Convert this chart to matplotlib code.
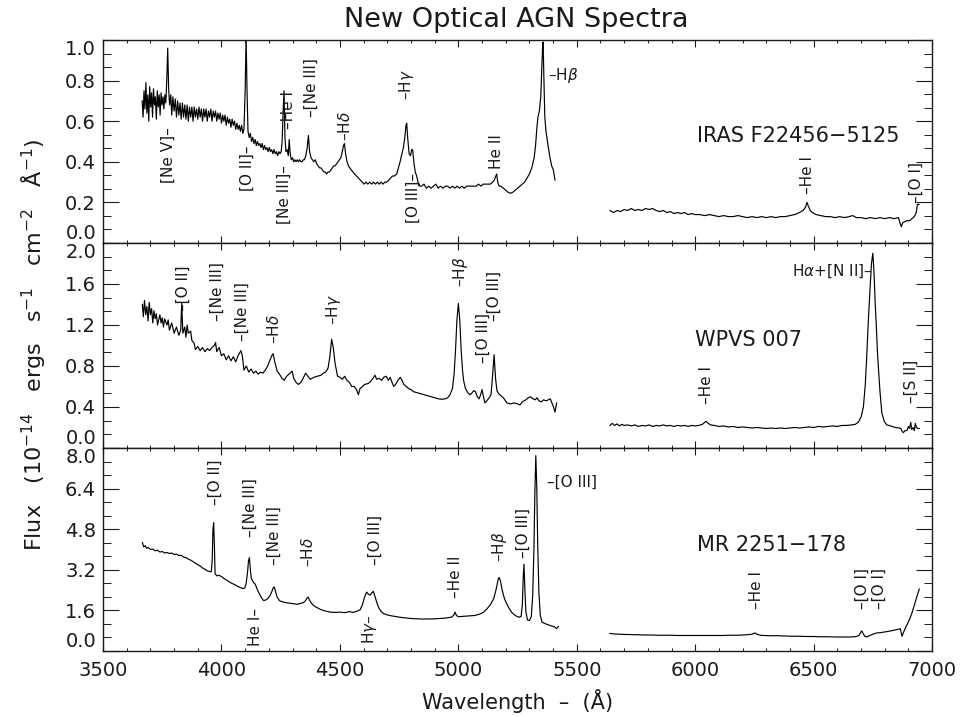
import numpy as np
import matplotlib
matplotlib.use("Agg")
import matplotlib.pyplot as plt
from matplotlib.ticker import MultipleLocator

# ---- IRAS F22456-5125 ----
iras_blue_wave = [3665, 3669, 3673, 3677, 3681, 3685, 3689, 3693, 3697, 3701, 3705, 3709, 3713, 3717,
                  3721, 3725, 3729, 3733, 3737, 3741, 3745, 3749, 3753, 3757, 3761, 3765, 3769, 3773,
                  3777, 3781, 3786, 3790, 3795, 3800, 3805, 3810, 3815, 3820, 3825, 3830, 3835, 3840,
                  3845, 3850, 3855, 3860, 3865, 3870, 3875, 3880, 3885, 3890, 3895, 3900, 3905, 3910,
                  3915, 3920, 3925, 3930, 3935, 3940, 3945, 3950, 3955, 3960, 3965, 3970, 3975, 3980,
                  3985, 3990, 3995, 4000, 4005, 4010, 4015, 4020, 4025, 4030, 4035, 4040, 4045, 4050,
                  4055, 4060, 4065, 4070, 4075, 4080, 4085, 4090, 4095, 4100, 4104, 4108, 4112, 4117,
                  4122, 4127, 4132, 4137, 4142, 4147, 4152, 4157, 4162, 4167, 4172, 4177, 4182, 4187,
                  4192, 4197, 4202, 4207, 4212, 4217, 4222, 4227, 4232, 4237, 4242, 4247, 4252, 4256,
                  4260, 4264, 4268, 4272, 4277, 4282, 4286, 4290, 4295, 4300, 4305, 4310, 4315, 4320,
                  4325, 4330, 4335, 4340, 4345, 4350, 4356, 4362, 4367, 4372, 4378, 4384, 4390, 4396,
                  4402, 4408, 4414, 4420, 4426, 4432, 4438, 4444, 4450, 4456, 4462, 4468, 4474, 4480,
                  4486, 4492, 4498, 4504, 4510, 4515, 4519, 4524, 4530, 4536, 4542, 4548, 4555, 4562,
                  4570, 4578, 4586, 4594, 4602, 4610, 4618, 4626, 4634, 4642, 4650, 4658, 4666, 4674,
                  4682, 4690, 4698, 4706, 4714, 4722, 4730, 4740, 4754, 4762, 4768, 4774, 4779, 4782,
                  4786, 4792, 4798, 4803, 4807, 4812, 4818, 4824, 4830, 4838, 4845, 4855, 4865, 4875,
                  4885, 4895, 4905, 4915, 4925, 4935, 4945, 4955, 4965, 4975, 4985, 4995, 5005, 5015,
                  5025, 5035, 5045, 5055, 5065, 5075, 5085, 5095, 5105, 5115, 5125, 5135, 5145, 5152,
                  5158, 5162, 5166, 5172, 5180, 5190, 5200, 5210, 5220, 5230, 5240, 5250, 5260, 5270,
                  5280, 5290, 5300, 5310, 5320, 5326, 5331, 5336, 5342, 5348, 5352, 5356, 5358, 5361,
                  5365, 5370, 5375, 5380, 5387, 5394, 5401, 5408]
iras_blue_flux = [0.70, 0.62, 0.75, 0.66, 0.79, 0.64, 0.73, 0.60, 0.77, 0.67, 0.74, 0.62, 0.76, 0.68,
                  0.72, 0.61, 0.75, 0.67, 0.73, 0.63, 0.74, 0.68, 0.72, 0.66, 0.73, 0.69, 0.80, 0.96,
                  0.76, 0.68, 0.73, 0.63, 0.72, 0.65, 0.71, 0.62, 0.70, 0.63, 0.69, 0.61, 0.69, 0.62,
                  0.68, 0.61, 0.68, 0.60, 0.67, 0.62, 0.67, 0.60, 0.67, 0.62, 0.66, 0.61, 0.67, 0.62,
                  0.66, 0.60, 0.66, 0.62, 0.66, 0.60, 0.65, 0.62, 0.66, 0.60, 0.65, 0.62, 0.65, 0.60,
                  0.64, 0.61, 0.64, 0.59, 0.63, 0.60, 0.63, 0.58, 0.62, 0.59, 0.61, 0.57, 0.61, 0.58,
                  0.60, 0.56, 0.59, 0.56, 0.58, 0.55, 0.58, 0.54, 0.56, 0.75, 1.02, 0.74, 0.55, 0.52,
                  0.54, 0.50, 0.52, 0.49, 0.51, 0.48, 0.50, 0.48, 0.49, 0.47, 0.49, 0.46, 0.48, 0.46,
                  0.47, 0.45, 0.47, 0.45, 0.46, 0.44, 0.46, 0.44, 0.45, 0.43, 0.45, 0.44, 0.45, 0.50,
                  0.64, 0.75, 0.52, 0.45, 0.46, 0.43, 0.51, 0.44, 0.41, 0.42, 0.40, 0.41, 0.40, 0.41,
                  0.40, 0.41, 0.40, 0.40, 0.41, 0.41, 0.43, 0.47, 0.53, 0.45, 0.42, 0.41, 0.40, 0.41,
                  0.39, 0.38, 0.37, 0.37, 0.36, 0.35, 0.35, 0.34, 0.35, 0.35, 0.36, 0.37, 0.38, 0.38,
                  0.39, 0.40, 0.41, 0.42, 0.45, 0.48, 0.49, 0.44, 0.40, 0.38, 0.37, 0.36, 0.35, 0.34,
                  0.33, 0.32, 0.31, 0.30, 0.29, 0.30, 0.29, 0.30, 0.29, 0.30, 0.29, 0.30, 0.29, 0.30,
                  0.29, 0.30, 0.30, 0.31, 0.32, 0.33, 0.33, 0.34, 0.40, 0.44, 0.47, 0.52, 0.58, 0.59,
                  0.52, 0.44, 0.43, 0.46, 0.46, 0.40, 0.35, 0.33, 0.30, 0.28, 0.28, 0.29, 0.27, 0.28,
                  0.27, 0.28, 0.29, 0.27, 0.28, 0.27, 0.28, 0.28, 0.27, 0.28, 0.27, 0.28, 0.27, 0.28,
                  0.27, 0.28, 0.28, 0.28, 0.28, 0.28, 0.29, 0.28, 0.29, 0.29, 0.29, 0.29, 0.30, 0.31,
                  0.33, 0.34, 0.30, 0.28, 0.28, 0.27, 0.26, 0.25, 0.245, 0.25, 0.26, 0.27, 0.28, 0.29,
                  0.30, 0.32, 0.34, 0.37, 0.42, 0.48, 0.56, 0.62, 0.65, 0.72, 0.85, 0.98, 0.99, 0.82,
                  0.62, 0.55, 0.51, 0.47, 0.42, 0.38, 0.36, 0.31]
iras_red_wave = [5640, 5655, 5670, 5685, 5700, 5715, 5730, 5745, 5760, 5775, 5790, 5805, 5820, 5835,
                 5850, 5865, 5880, 5895, 5910, 5925, 5940, 5955, 5970, 5985, 6000, 6020, 6040, 6060,
                 6080, 6100, 6120, 6140, 6160, 6180, 6200, 6220, 6240, 6260, 6280, 6300, 6320, 6340,
                 6360, 6380, 6400, 6420, 6440, 6455, 6465, 6472, 6478, 6486, 6495, 6510, 6530, 6550,
                 6570, 6590, 6610, 6630, 6650, 6665, 6680, 6700, 6720, 6740, 6760, 6780, 6800, 6820,
                 6840, 6858, 6864, 6870, 6876, 6885, 6895, 6905, 6915, 6925, 6933, 6938, 6945]
iras_red_flux = [0.16, 0.15, 0.16, 0.155, 0.165, 0.16, 0.17, 0.16, 0.165, 0.16, 0.17, 0.165, 0.17, 0.16,
                 0.155, 0.16, 0.15, 0.155, 0.145, 0.15, 0.145, 0.15, 0.14, 0.145, 0.14, 0.14, 0.135, 0.14,
                 0.135, 0.13, 0.135, 0.13, 0.13, 0.135, 0.13, 0.125, 0.13, 0.125, 0.13, 0.125, 0.13, 0.125,
                 0.13, 0.13, 0.135, 0.14, 0.15, 0.16, 0.175, 0.20, 0.18, 0.16, 0.15, 0.14, 0.135, 0.13,
                 0.13, 0.125, 0.13, 0.125, 0.13, 0.135, 0.125, 0.125, 0.12, 0.125, 0.12, 0.125, 0.12, 0.125,
                 0.12, 0.125, 0.10, 0.08, 0.10, 0.105, 0.11, 0.11, 0.12, 0.13, 0.15, 0.19, 0.19]

# ---- WPVS 007 ----
wpvs_blue_wave = [3666, 3670, 3675, 3680, 3685, 3690, 3695, 3700, 3705, 3710, 3715, 3720, 3725, 3730,
                  3740, 3745, 3750, 3755, 3760, 3770, 3775, 3780, 3790, 3800, 3810, 3820, 3828, 3832,
                  3837, 3845, 3850, 3855, 3860, 3870, 3875, 3885, 3890, 3900, 3910, 3920, 3930, 3940,
                  3950, 3960, 3970, 3975, 3980, 3990, 4000, 4010, 4020, 4030, 4040, 4050, 4060, 4070,
                  4082, 4088, 4095, 4105, 4115, 4125, 4135, 4145, 4155, 4165, 4175, 4185, 4195, 4212,
                  4218, 4225, 4235, 4245, 4255, 4265, 4275, 4290, 4298, 4305, 4315, 4325, 4335, 4345,
                  4355, 4365, 4375, 4390, 4405, 4420, 4430, 4440, 4450, 4458, 4465, 4472, 4480, 4490,
                  4500, 4510, 4520, 4530, 4540, 4550, 4560, 4570, 4578, 4585, 4595, 4605, 4620, 4630,
                  4640, 4648, 4655, 4665, 4676, 4685, 4695, 4705, 4712, 4720, 4727, 4735, 4745, 4755,
                  4762, 4770, 4780, 4790, 4800, 4810, 4825, 4840, 4855, 4870, 4885, 4900, 4915, 4930,
                  4945, 4955, 4965, 4975, 4982, 4988, 4994, 5000, 5006, 5012, 5018, 5022, 5030, 5040,
                  5048, 5055, 5065, 5072, 5080, 5088, 5094, 5100, 5106, 5112, 5120, 5130, 5138, 5146,
                  5151, 5157, 5163, 5170, 5180, 5190, 5205, 5220, 5235, 5250, 5260, 5270, 5285, 5295,
                  5305, 5315, 5325, 5332, 5340, 5350, 5360, 5370, 5380, 5388, 5395, 5402, 5408, 5415]
wpvs_blue_flux = [1.40, 1.28, 1.44, 1.30, 1.38, 1.24, 1.42, 1.30, 1.36, 1.22, 1.34, 1.26, 1.31, 1.20,
                  1.30, 1.22, 1.27, 1.18, 1.26, 1.20, 1.25, 1.15, 1.22, 1.12, 1.18, 1.10, 1.15, 1.41,
                  1.12, 1.18, 1.08, 1.20, 1.12, 1.14, 1.05, 1.02, 0.96, 0.99, 0.95, 0.98, 0.94, 0.97,
                  0.95, 0.98, 1.00, 1.03, 0.94, 0.98, 0.90, 0.92, 0.86, 0.90, 0.85, 0.89, 0.84, 0.90,
                  0.95, 0.90, 0.76, 0.80, 0.74, 0.77, 0.73, 0.75, 0.72, 0.74, 0.73, 0.76, 0.80, 0.90,
                  0.92, 0.84, 0.75, 0.72, 0.68, 0.66, 0.70, 0.73, 0.75, 0.68, 0.64, 0.62, 0.64, 0.68,
                  0.73, 0.70, 0.67, 0.69, 0.70, 0.71, 0.73, 0.74, 0.78, 0.90, 1.06, 0.98, 0.82, 0.70,
                  0.69, 0.67, 0.70, 0.66, 0.64, 0.60, 0.60, 0.57, 0.52, 0.58, 0.60, 0.62, 0.63, 0.65,
                  0.68, 0.71, 0.67, 0.68, 0.66, 0.69, 0.70, 0.66, 0.69, 0.64, 0.60, 0.62, 0.66, 0.69,
                  0.66, 0.62, 0.60, 0.58, 0.57, 0.55, 0.54, 0.53, 0.52, 0.51, 0.50, 0.49, 0.48, 0.475,
                  0.48, 0.49, 0.52, 0.58, 0.72, 0.95, 1.25, 1.41, 1.25, 0.95, 0.75, 0.66, 0.58, 0.54,
                  0.52, 0.53, 0.56, 0.55, 0.50, 0.48, 0.52, 0.57, 0.50, 0.44, 0.46, 0.49, 0.52, 0.75,
                  0.91, 0.68, 0.56, 0.53, 0.51, 0.49, 0.44, 0.43, 0.44, 0.43, 0.42, 0.45, 0.47, 0.49,
                  0.50, 0.48, 0.47, 0.49, 0.46, 0.45, 0.47, 0.46, 0.47, 0.48, 0.44, 0.40, 0.35, 0.44]
wpvs_red_wave = [5640, 5650, 5660, 5670, 5680, 5690, 5700, 5715, 5730, 5745, 5760, 5775, 5790, 5805,
                 5820, 5835, 5850, 5865, 5880, 5895, 5910, 5925, 5940, 5955, 5970, 5985, 6000, 6015,
                 6030, 6040, 6046, 6055, 6065, 6080, 6100, 6120, 6140, 6160, 6180, 6200, 6220, 6240,
                 6260, 6280, 6300, 6320, 6340, 6360, 6380, 6400, 6420, 6440, 6460, 6480, 6500, 6520,
                 6540, 6560, 6580, 6600, 6620, 6640, 6660, 6675, 6688, 6700, 6710, 6718, 6724, 6731,
                 6738, 6744, 6750, 6755, 6760, 6764, 6769, 6774, 6780, 6788, 6798, 6809, 6825, 6845,
                 6860, 6868, 6874, 6879, 6886, 6894, 6900, 6905, 6910, 6914, 6920, 6925, 6929, 6934,
                 6940, 6946]
wpvs_red_flux = [0.22, 0.24, 0.22, 0.235, 0.215, 0.23, 0.22, 0.225, 0.215, 0.225, 0.21, 0.22, 0.215, 0.225,
                 0.21, 0.22, 0.215, 0.225, 0.215, 0.22, 0.21, 0.22, 0.215, 0.22, 0.21, 0.22, 0.215, 0.22,
                 0.23, 0.25, 0.26, 0.24, 0.225, 0.22, 0.21, 0.215, 0.205, 0.21, 0.20, 0.205, 0.20, 0.195,
                 0.20, 0.195, 0.19, 0.195, 0.19, 0.195, 0.19, 0.195, 0.20, 0.195, 0.20, 0.205, 0.20, 0.21,
                 0.205, 0.21, 0.215, 0.21, 0.22, 0.22, 0.225, 0.23, 0.25, 0.30, 0.40, 0.62, 0.89, 1.25,
                 1.55, 1.80, 1.90, 1.70, 1.40, 1.22, 0.95, 0.76, 0.55, 0.34, 0.26, 0.225, 0.215, 0.20,
                 0.195, 0.19, 0.16, 0.15, 0.17, 0.17, 0.21, 0.19, 0.25, 0.18, 0.20, 0.17, 0.24, 0.20,
                 0.19, 0.19]

# ---- MR 2251-178 ----
mr_blue_wave = [3666, 3672, 3678, 3684, 3690, 3700, 3710, 3720, 3730, 3740, 3750, 3760, 3770, 3780,
                3790, 3800, 3810, 3820, 3830, 3840, 3850, 3860, 3870, 3880, 3890, 3900, 3910, 3920,
                3930, 3940, 3950, 3957, 3961, 3964, 3967, 3970, 3973, 3980, 3990, 4000, 4010, 4020,
                4030, 4040, 4050, 4060, 4070, 4080, 4090, 4098, 4104, 4110, 4114, 4118, 4122, 4126,
                4130, 4135, 4142, 4150, 4160, 4170, 4177, 4185, 4195, 4205, 4213, 4219, 4223, 4228,
                4235, 4245, 4260, 4275, 4290, 4305, 4320, 4335, 4345, 4355, 4362, 4366, 4372, 4380,
                4390, 4405, 4420, 4440, 4460, 4480, 4500, 4520, 4540, 4555, 4570, 4585, 4595, 4605,
                4613, 4620, 4627, 4634, 4641, 4648, 4656, 4665, 4675, 4685, 4700, 4720, 4740, 4760,
                4780, 4800, 4820, 4840, 4860, 4880, 4900, 4920, 4940, 4955, 4970, 4980, 4986, 4992,
                5000, 5015, 5030, 5050, 5070, 5090, 5105, 5120, 5135, 5150, 5160, 5168, 5172, 5178,
                5185, 5195, 5210, 5225, 5240, 5255, 5265, 5270, 5274, 5277, 5281, 5285, 5292, 5300,
                5308, 5314, 5319, 5323, 5327, 5331, 5335, 5340, 5346, 5353, 5365, 5380, 5395, 5405,
                5415, 5422]
mr_blue_flux = [4.27, 4.10, 4.15, 4.05, 4.08, 4.00, 4.02, 3.95, 3.97, 3.90, 3.92, 3.86, 3.88, 3.84,
                3.86, 3.80, 3.82, 3.76, 3.77, 3.70, 3.68, 3.62, 3.58, 3.52, 3.46, 3.40, 3.35, 3.27,
                3.22, 3.16, 3.13, 3.12, 3.60, 4.80, 5.05, 4.20, 3.05, 2.96, 2.98, 2.93, 2.86, 2.80,
                2.74, 2.68, 2.64, 2.59, 2.54, 2.50, 2.46, 2.48, 2.65, 3.10, 3.55, 3.68, 3.20, 2.85,
                2.80, 2.70, 2.64, 2.45, 2.25, 2.08, 1.99, 2.00, 2.06, 2.18, 2.35, 2.50, 2.52, 2.35,
                2.12, 1.98, 1.93, 1.90, 1.88, 1.86, 1.84, 1.88, 1.90, 1.98, 2.10, 2.12, 2.00, 1.88,
                1.78, 1.70, 1.63, 1.57, 1.53, 1.52, 1.53, 1.51, 1.55, 1.52, 1.56, 1.62, 1.82, 2.15,
                2.32, 2.24, 2.20, 2.28, 2.35, 2.15, 1.90, 1.68, 1.55, 1.47, 1.42, 1.38, 1.35, 1.32,
                1.30, 1.28, 1.27, 1.26, 1.26, 1.26, 1.27, 1.28, 1.29, 1.31, 1.33, 1.40, 1.53, 1.40,
                1.35, 1.36, 1.37, 1.38, 1.40, 1.45, 1.52, 1.65, 1.82, 2.08, 2.45, 2.82, 2.90, 2.75,
                2.40, 2.05, 1.75, 1.52, 1.40, 1.33, 1.36, 1.80, 2.90, 3.42, 2.40, 1.55, 1.22, 1.20,
                1.35, 2.20, 4.00, 6.20, 7.70, 6.50, 4.20, 2.30, 1.40, 1.14, 1.08, 1.03, 0.98, 0.96,
                0.88, 0.97]
mr_red_wave = [5640, 5660, 5680, 5700, 5720, 5740, 5760, 5780, 5800, 5820, 5840, 5860, 5880, 5900,
               5920, 5940, 5960, 5980, 6000, 6020, 6040, 6060, 6080, 6100, 6120, 6140, 6160, 6180,
               6200, 6220, 6240, 6252, 6260, 6275, 6290, 6310, 6330, 6350, 6380, 6410, 6440, 6470,
               6500, 6530, 6560, 6590, 6620, 6650, 6675, 6690, 6698, 6703, 6708, 6716, 6724, 6735,
               6750, 6766, 6780, 6800, 6820, 6840, 6860, 6866, 6870, 6873, 6878, 6886, 6895, 6905,
               6914, 6925, 6935, 6946]
mr_red_flux = [0.69, 0.67, 0.66, 0.65, 0.65, 0.64, 0.64, 0.63, 0.63, 0.63, 0.62, 0.62, 0.62, 0.62,
               0.61, 0.61, 0.61, 0.61, 0.61, 0.61, 0.61, 0.61, 0.61, 0.61, 0.61, 0.62, 0.62, 0.62,
               0.63, 0.64, 0.66, 0.71, 0.66, 0.62, 0.61, 0.60, 0.60, 0.60, 0.59, 0.58, 0.58, 0.57,
               0.57, 0.56, 0.56, 0.55, 0.55, 0.55, 0.56, 0.60, 0.72, 0.79, 0.70, 0.58, 0.55, 0.60,
               0.66, 0.71, 0.72, 0.75, 0.78, 0.82, 0.86, 0.88, 0.70, 0.58, 0.70, 0.88, 1.05, 1.25,
               1.47, 1.80, 2.12, 2.44]

# line identifications: text, wavelength, flux, rotation
iras_lines = [("[Ne V]–", 3774, 0.433, 90), ("[O II]–", 4108, 0.370, 90),
              ("[Ne III]–", 4264, 0.237, 90), ("–He I", 4285, 0.655, 90),
              ("–[Ne III]", 4378, 0.764, 90), ("–H$\\delta$", 4522, 0.577, 90),
              ("–H$\\gamma$", 4783, 0.779, 90), ("[O III]–", 4809, 0.222, 90),
              ("He II", 5163, 0.448, 90), ("–He I", 6476, 0.335, 90),
              ("–[O I]", 6932, 0.296, 90), ("–H$\\beta$", 5379, 0.823, 0)]
wpvs_lines = [("–[O II]", 3838, 1.561, 90), ("–[Ne III]", 3981, 1.522, 90),
              ("–[Ne III]", 4087, 1.327, 90), ("–H$\\delta$", 4222, 1.161, 90),
              ("–H$\\gamma$", 4471, 1.346, 90), ("–H$\\beta$", 5007, 1.717, 90),
              ("–[O III]", 5104, 1.073, 90), ("–[O III]", 5151, 1.483, 90),
              ("–He I", 6046, 0.615, 90), ("–[S II]", 6911, 0.654, 90),
              ("H$\\alpha$+[N II]–", 6747, 1.727, 0)]
mr_lines = [("–[O II]", 3973, 6.66, 90), ("–[Ne III]", 4121, 5.64, 90),
            ("He I–", 4142, 0.946, 90), ("–[Ne III]", 4222, 4.53, 90),
            ("–H$\\delta$", 4365, 3.90, 90), ("H$\\gamma$–", 4623, 0.867, 90),
            ("–[O III]", 4648, 4.37, 90), ("–He II", 4990, 2.92, 90),
            ("–H$\\beta$", 5172, 4.10, 90), ("–[O III]", 5273, 4.65, 90),
            ("–He I", 6257, 2.40, 90), ("–[O I]", 6704, 2.48, 90),
            ("–[O I]", 6776, 2.48, 90), ("–[O III]", 5375, 6.66, 0)]

names = ["IRAS F22456−5125", "WPVS 007", "MR 2251−178"]
name_pos = [(6008, 0.527), (5999, 1.054), (6008, 4.18)]
ymaxes = [1.0, 2.0, 8.0]
ysteps = [0.2, 0.4, 1.6]

ink = "#1a1a1a"
fig = plt.figure(figsize=(9.63, 7.17), dpi=100)
boxes = [(0.1070, 0.6611, 0.8609, 0.2831),
         (0.1070, 0.3752, 0.8609, 0.2859),
         (0.1070, 0.0921, 0.8609, 0.2831)]
spectra = [((iras_blue_wave, iras_blue_flux), (iras_red_wave, iras_red_flux)),
           ((wpvs_blue_wave, wpvs_blue_flux), (wpvs_red_wave, wpvs_red_flux)),
           ((mr_blue_wave, mr_blue_flux), (mr_red_wave, mr_red_flux))]
lines_all = [iras_lines, wpvs_lines, mr_lines]

for i in range(3):
    ax = fig.add_axes(boxes[i])
    for w, f in spectra[i]:
        ax.plot(w, f, color="black", lw=0.85)
    ax.set_xlim(3500, 7000)
    ax.set_ylim(0, ymaxes[i])
    ax.xaxis.set_major_locator(MultipleLocator(500))
    ax.xaxis.set_minor_locator(MultipleLocator(100))
    ticks = np.arange(0, ymaxes[i] + ysteps[i] / 2, ysteps[i])
    ax.set_yticks(ticks)
    ax.set_yticklabels([f"{t:.1f}" for t in ticks])
    ax.yaxis.set_minor_locator(MultipleLocator(ysteps[i] / 3))
    ax.tick_params(axis="both", which="both", direction="in", top=True, right=True,
                   color=ink, labelcolor=ink, labelsize=14)
    ax.tick_params(axis="x", which="major", length=5, width=0.8, pad=7)
    ax.tick_params(axis="x", which="minor", length=2.5, width=0.7)
    ax.tick_params(axis="y", which="major", length=11.5, width=0.8, pad=5)
    ax.tick_params(axis="y", which="minor", length=5.8, width=0.7)
    labs = ax.get_yticklabels()
    labs[0].set_va("bottom")
    labs[-1].set_va("top")
    for s in ax.spines.values():
        s.set_linewidth(1.0)
        s.set_color(ink)
    if i < 2:
        ax.tick_params(axis="x", labelbottom=False)
    for txt, lam, fl, rot in lines_all[i]:
        if rot == 90:
            ax.text(lam, fl, txt, rotation=90, ha="center", va="center", fontsize=11, color=ink)
        elif txt.endswith("–"):
            ax.text(lam, fl, txt, ha="right", va="center", fontsize=11, color=ink)
        else:
            ax.text(lam, fl, txt, ha="left", va="center", fontsize=11, color=ink)
    ax.text(name_pos[i][0], name_pos[i][1], names[i], ha="left", va="center",
            fontsize=15, color=ink)

fig.text(516 / 963, 1 - 27 / 717, "New Optical AGN Spectra", ha="center", va="baseline",
         fontsize=19.5, color=ink)
fig.text(518 / 963, 1 - 701 / 717, "Wavelength  –  (Å)", ha="center", va="center",
         fontsize=15, color=ink)
fig.text(34 / 963, 1 - 345 / 717,
         "Flux   (10$^{-14}$   ergs   s$^{-1}$   cm$^{-2}$   Å$^{-1}$)",
         rotation=90, ha="center", va="center", fontsize=16, color=ink)

fig.savefig("out.png", dpi=100)
